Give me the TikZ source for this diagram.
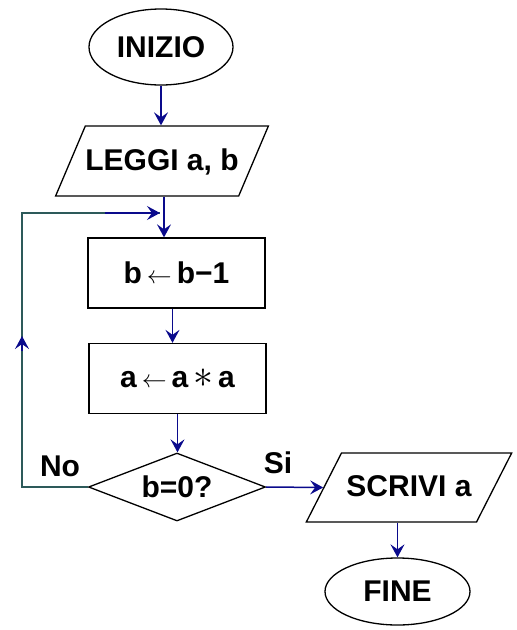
\documentclass[tikz,border=0pt]{standalone}
\usepackage{fontspec}
\setmainfont{Liberation Sans}
\usetikzlibrary{shapes.geometric,arrows.meta}
\definecolor{flowblue}{RGB}{10,10,140}
\definecolor{backteal}{RGB}{45,90,90}

\begin{document}
\begin{tikzpicture}[x=1pt, y=-1pt,
    font=\fontsize{30}{36}\selectfont\bfseries,
    terminal/.style={ellipse, draw, line width=1.3pt, inner sep=0pt},
    io/.style={trapezium, draw, line width=1.3pt, inner xsep=0pt,
      text height=22pt, text depth=4pt},
    block/.style={rectangle, draw, line width=1.3pt, minimum width=177pt,
      minimum height=70pt},
    test/.style={diamond, draw, line width=1.3pt, inner sep=0pt,
      minimum width=177pt, minimum height=68pt, shape aspect=2.6},
    flow/.style={flowblue, line width=1.5pt,
      -{Stealth[length=13pt,width=14pt,inset=5pt]}},
    back/.style={backteal, line width=1.5pt}
    ]
    \useasboundingbox (0,0) rectangle (517,630);
    \node[terminal, minimum width=144pt, minimum height=76pt] (inizio) at (161,47) {INIZIO};
    \node[io, trapezium left angle=67, trapezium right angle=113,
      inner ysep=22pt] (leggi) at (162,161) {LEGGI a, b};
    \node[block] (dec) at (176.5,273) {b\,$\leftarrow$\,b−1};
    \node[block] (sq) at (177.5,378.5) {a\,$\leftarrow$\,a\,\scalebox{1.6}{$\ast$}\,a};
    \node[test] (cond) at (177,487) {b=0?};
    \node[io, trapezium left angle=63, trapezium right angle=117,
      inner xsep=5pt, inner ysep=21.5pt] (scrivi) at (409,487.5) {SCRIVI a};
    \node[terminal, minimum width=145pt, minimum height=67pt] (fine) at (397.5,591.5) {FINE};
    \node (no) at (60,466) {No};
    \node (si) at (278,463) {Si};
    \coordinate (up) at (22,336);
    \coordinate (join) at (160,213);

    \draw[flow] (inizio.south) -- (inizio.south |- leggi.north);
    \draw[flow] ([xshift=2pt]leggi.south) -- ([xshift=2pt]leggi.south |- dec.north);
    \draw[flow] ([xshift=-4pt]dec.south) -- ([xshift=-4pt]dec.south |- sq.north);
    \draw[flow] (sq.south) -- (sq.south |- cond.north);
    \draw[flow] (cond.east) -- (scrivi.west);
    \draw[flow] (fine.north |- scrivi.south) -- (fine.north);
    \draw[back] (cond.west) -| (up);
    \draw[flow] ([yshift=-15pt]up) -- (up);
    \draw[back] (up) |- (join);
    \draw[flow] ([xshift=-55pt]join) -- (join);
  \end{tikzpicture}
\end{document}
